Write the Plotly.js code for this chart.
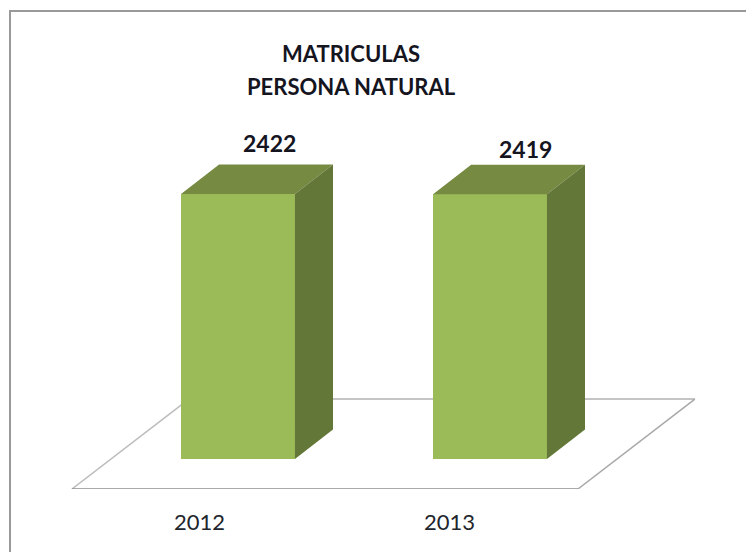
<!DOCTYPE html>
<html>
<head>
<meta charset="utf-8">
<script src="https://cdn.plot.ly/plotly-3.0.1.min.js"></script>
<style>html,body{margin:0;padding:0;background:#fff}#c{width:746px;height:552px}</style>
</head>
<body>
<div id="c"></div>
<script>
const categories = ["2012", "2013"];
const values = [2422, 2419];
const chartTitle = "MATRICULAS";
const chartSubtitle = "PERSONA NATURAL";

const idx = categories.map((_, i) => i);
const barW = 0.452, depthX = 0.151, depthY = 270;
const fw = barW / 2;
const floorY = -274, floorDX = 0.464, floorDY = 822, floorL = -0.659, floorR = 1.349;
const W = 746, H = 552, B = 63;
const FONT = "Lato, Carlito, sans-serif";

function faceTrace(name, color, xs, ys) {
  return {type: "scatter", mode: "lines", fill: "toself", fillcolor: color,
          line: {width: 0, color: color}, x: xs, y: ys, name: name, hoverinfo: "skip", showlegend: false};
}
const traces = [{
  type: "bar", x: idx, y: values, width: barW, marker: {color: "#9BBB59", line: {width: 0}},
  showlegend: false, hoverinfo: "x+y"
}];
idx.forEach(i => {
  const v = values[i], l = i - fw, r = i + fw;
  traces.push(faceTrace("top", "#768A42",
    [l, r, r + depthX, l + depthX, l], [v, v, v + depthY, v + depthY, v]));
  traces.push(faceTrace("side", "#637838",
    [r, r + depthX, r + depthX, r, r], [0, depthY, v + depthY, v, 0]));
});

const labelShift = [{x: 31, y: -1}, {x: 35, y: -6}];
const annotations = idx.map(i => ({
  x: i, y: values[i] + depthY, xref: "x", yref: "y", text: String(values[i]),
  showarrow: false, xshift: labelShift[i].x, yshift: 22 + labelShift[i].y,
  font: {family: FONT, size: 23, color: "#15151f", weight: 700}
}));
annotations.push({
  xref: "paper", yref: "paper", x: 351 / W, y: (H - B - 86) / (H - B), xanchor: "center", yanchor: "middle",
  text: chartSubtitle, showarrow: false,
  font: {family: FONT, size: 22, color: "#15151f", weight: 700}
});

const layout = {
  width: W, height: H,
  margin: {l: 0, r: 0, t: 0, b: B, pad: 0},
  paper_bgcolor: "#ffffff", plot_bgcolor: "rgba(0,0,0,0)",
  showlegend: false, bargap: 0,
  title: {
    text: chartTitle, x: 351 / W, xanchor: "center", y: 1 - 54 / H, yanchor: "middle",
    font: {family: FONT, size: 22, color: "#15151f", weight: 700}
  },
  xaxis: {
    type: "linear", range: [-238 / 252, 508 / 252], showgrid: false, zeroline: false, showline: false,
    tickmode: "array", tickvals: idx.map(i => i * 0.992 - 0.153), ticktext: categories,
    ticks: "outside", ticklen: 14, tickwidth: 1, tickcolor: "rgba(0,0,0,0)",
    tickfont: {family: FONT, size: 22, color: "#22252c"}
  },
  yaxis: {range: [floorY, 4195], visible: false, fixedrange: true},
  shapes: [
    {type: "path", layer: "below", xref: "x", yref: "y",
     path: `M ${floorL + floorDX} ${floorY + floorDY} L ${floorR + floorDX} ${floorY + floorDY}`,
     line: {color: "#c4c4c4", width: 2}},
    {type: "path", layer: "below", xref: "x", yref: "y",
     path: `M ${floorL} ${floorY} L ${floorL + floorDX} ${floorY + floorDY}`,
     line: {color: "#bcbcbc", width: 1.5}},
    {type: "path", layer: "below", xref: "x", yref: "y",
     path: `M ${floorR} ${floorY} L ${floorR + floorDX} ${floorY + floorDY}`,
     line: {color: "#a8a8a8", width: 1.5}},
    {type: "path", layer: "below", xref: "x", yref: "y",
     path: `M ${floorL} ${floorY} L ${floorR} ${floorY}`,
     line: {color: "#8e8e8e", width: 1.5}},
    {type: "path", layer: "below", xref: "paper", yref: "paper",
     path: `M ${10 / W} ${(H - B - H) / (H - B)} L ${10 / W} ${(H - B - 11) / (H - B)} L 1 ${(H - B - 11) / (H - B)}`,
     line: {color: "#999999", width: 2}}
  ],
  annotations: annotations
};
Plotly.newPlot("c", traces, layout, {displayModeBar: false, staticPlot: true});
</script>
</body>
</html>
